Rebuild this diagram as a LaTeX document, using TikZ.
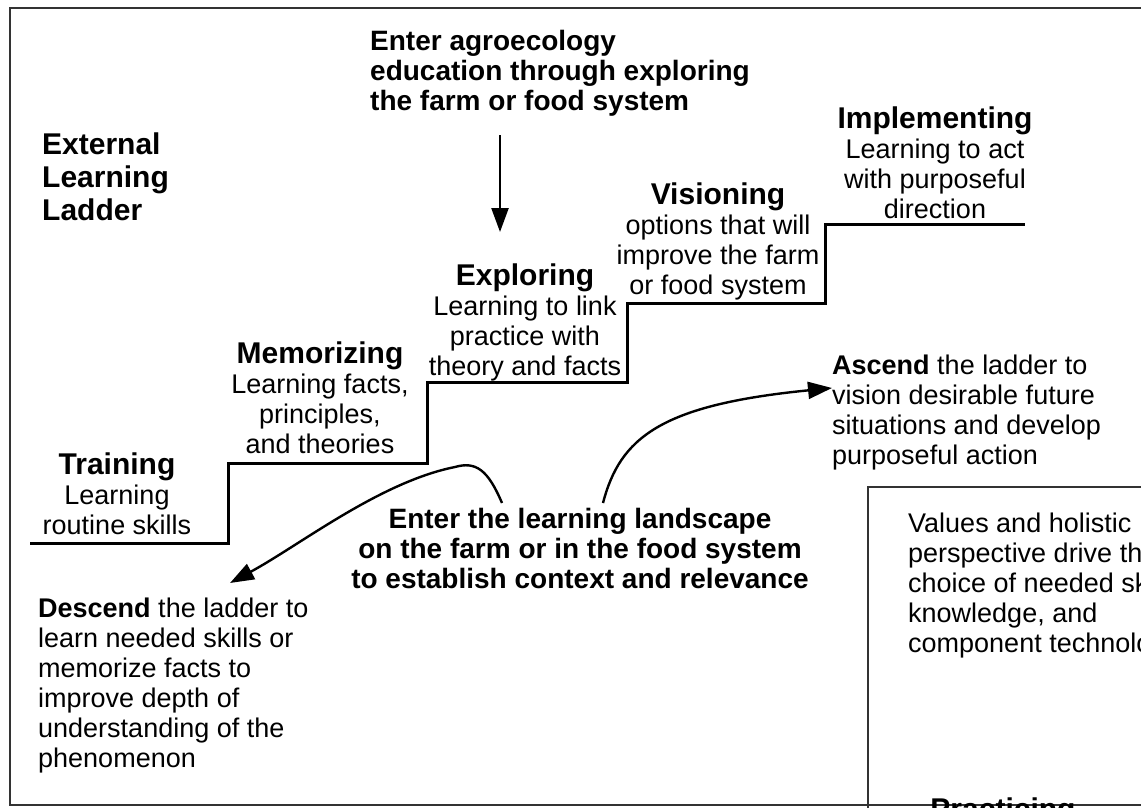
\documentclass[tikz,border=0pt]{standalone}
\usepackage{fontspec}
\setmainfont{Liberation Sans}
\usetikzlibrary{positioning}
\usetikzlibrary{arrows.meta}

\newcommand{\stephead}[1]{{\fontsize{30}{30}\selectfont\bfseries #1}}

\tikzset{
  txt/.style={inner sep=0pt, anchor=north, font=\fontsize{27}{30}\selectfont},
  boldtxt/.style={font=\fontsize{28}{30}\selectfont\bfseries},
  lefttxt/.style={txt, anchor=north west, align=left},
  midtxt/.style={txt, align=center},
  stair/.style={line width=3pt, line join=miter},
  flow/.style={line width=2.4pt, -{Triangle[length=24pt, width=17pt]}}
}

\begin{document}
\begin{tikzpicture}[x=1pt, y=-1pt]

    \useasboundingbox (0,0) rectangle (1141,808);
    \clip (0,0) rectangle (1141,808);

    % Frame
    \draw[line width=2pt, black!80] (10,8) rectangle (1170,805);

    % Ladder
    \draw[stair] (30,543) -- (228,543) -- (228,463) -- (427,463) -- (427,382)
      -- (627,382) -- (627,303) -- (825,303) -- (825,224) -- (1025,224);

    % Nodes
    \node[lefttxt, font=\fontsize{30}{33}\selectfont\bfseries] (ladder) at (42,133) {External\\Learning\\Ladder};
    \node[lefttxt, boldtxt] (enterfarm) at (370,30) {Enter agroecology\\education through exploring\\the farm or food system};
    \node[midtxt] (implementing) at (935,107) {\stephead{Implementing}\\Learning to act\\with purposeful\\direction};
    \node[midtxt] (visioning) at (718,183) {\stephead{Visioning}\\options that will\\improve the farm\\or food system};
    \node[midtxt] (exploring) at (525,264) {\stephead{Exploring}\\Learning to link\\practice with\\theory and facts};
    \node[midtxt] (memorizing) at (320,342) {\stephead{Memorizing}\\Learning facts,\\principles,\\and theories};
    \node[midtxt] (training) at (117,453) {\stephead{Training}\\Learning\\routine skills};
    \node[lefttxt] (ascend) at (832,355) {\textbf{Ascend} the ladder to\\vision desirable future\\situations and develop\\purposeful action};
    \node[midtxt, boldtxt] (landscape) at (580,508) {Enter the learning landscape\\on the farm or in the food system\\to establish context and relevance};
    \node[lefttxt] (descend) at (38,598) {\textbf{Descend} the ladder to\\learn needed skills or\\memorize facts to\\improve depth of\\understanding of the\\phenomenon};

    % Practicing box
    \draw[line width=2pt, black!80] (868,487) rectangle (1180,840);
    \node[lefttxt] (values) at (908,513) {Values and holistic\\perspective drive the\\choice of needed skills,\\knowledge, and\\component technologies};
    \node[midtxt, font=\fontsize{30}{33}\selectfont\bfseries] (practicing) at (1003,798) {Practicing};

    % Arrows
    \coordinate (downend) at (500,232);
    \coordinate (descstart) at (502,503);
    \coordinate (descend-tip) at (230,583);
    \coordinate (ascstart) at (603,503);
    \coordinate (ascend-tip) at (832,388);
    \draw[flow] (500,135) -- (downend);
    \draw[flow] (descstart) .. controls (488,470) and (476,461) .. (455,467)
      .. controls (380,482) and (300,545) .. (descend-tip);
    \draw[flow] (ascstart) .. controls (620,438) and (660,405) .. (ascend-tip);

\end{tikzpicture}
\end{document}
